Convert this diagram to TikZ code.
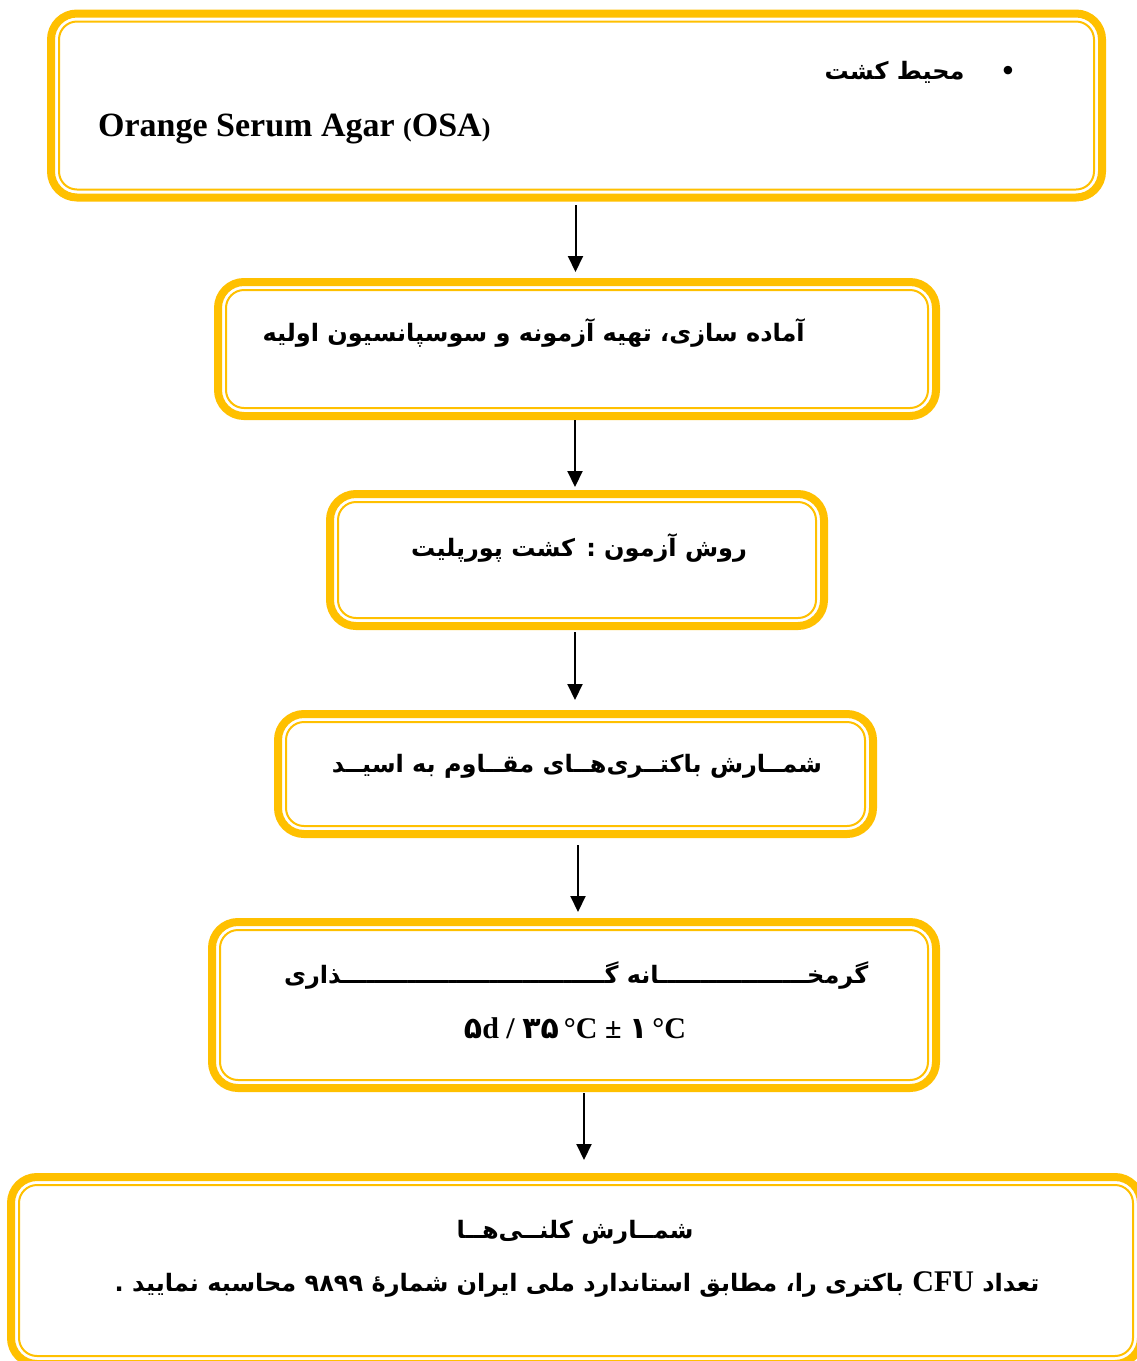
\documentclass[tikz,border=0pt]{standalone}
\usepackage{fontspec}
\setmainfont{Liberation Serif}
\newfontfamily\fa[Script=Arabic]{DejaVu Sans}
\TeXXeTstate=1
\usetikzlibrary{arrows.meta}
\definecolor{gold}{HTML}{FFC000}
\tikzset{
  outerbox/.style={draw=gold, line width=8pt, rounded corners=26pt, inner sep=0pt, outer sep=0pt},
  innerbox/.style={draw=gold, line width=2pt, rounded corners=18pt},
  arr/.style={line width=2pt, -{Triangle[length=16pt,width=15pt]}},
  fatxt/.style={font=\fa\bfseries\fontsize{24}{30}\selectfont, inner sep=0pt},
  entxt/.style={font=\bfseries\fontsize{34}{40}\selectfont, inner sep=0pt}
}
\newcommand\gbox[5]{%
  \node[outerbox, minimum width={(#4-#2)*1pt}, minimum height={(#5-#3)*1pt}] (#1) at ({(#2+#4)/2},{(#3+#5)/2}) {};
  \draw[innerbox] ([shift={(8,8)}]#1.north west) rectangle ([shift={(-8,-8)}]#1.south east);
}
\newcommand\en{\rmfamily\bfseries}
\def\tone{ـ}
\def\tfive{ـــــ}
\def\tten{\tfive\tfive}
\begin{document}
\begin{tikzpicture}[x=1pt,y=-1pt]
\useasboundingbox (0,0) rectangle (1137,1361);
\clip (0,0) rectangle (1137,1361);
\fill[white] (0,0) rectangle (1137,1361);
% boxes
\gbox{b1}{51}{13.5}{1102}{197.5}
\gbox{b2}{218}{282}{936}{416}
\gbox{b3}{330}{494}{824}{626}
\gbox{b4}{278}{714}{873}{834}
\gbox{b5}{212}{922}{936}{1088}
\gbox{b6}{11}{1177}{1141}{1364}
% texts
\node[fatxt, anchor=east] (t1a) at (1016,72) {\beginR •\hskip 36pt محیط کشت\endR};
\node[entxt, anchor=base west] (t1b) at (98,136) {Orange Serum Agar {\fontsize{26}{30}\selectfont(}OSA{\fontsize{26}{30}\selectfont)}};
\node[fatxt, anchor=east] (t2) at (805,333) {\beginR آماده سازی، تهیه آزمونه و سوسپانسیون اولیه\endR};
\node[fatxt] (t3) at (579,548) {\beginR روش آزمون : کشت پورپلیت\endR};
\node[fatxt] (t4) at (577,766) {\beginR شمــارش باکتــری‌هــای مقــاوم به اسیــد\endR};
\node[fatxt] (t5a) at (576,975) {\beginR گرمخ\tten\tfive\tone\tone\tone انه گ\tten\tten\tten\tone\tone ذاری\endR};
\node[entxt, font=\bfseries\fontsize{30}{36}\selectfont] (t5b) at (575,1028) {{\fa ۵}d / {\fa ۳۵}\,°C ± {\fa ۱}\,°C};
\node[fatxt] (t6a) at (575,1232) {\beginR شمــارش کلنــی‌هــا\endR};
\node[fatxt] (t6b) at (577,1285) {\beginR تعداد \beginL{\en\fontsize{30}{36}\selectfont CFU}\endL{} باکتری را، مطابق استاندارد ملی ایران شمارهٔ \beginL ۹۸۹۹\endL{} محاسبه نمایید .\endR};
% arrows
\coordinate (x1) at (575.5,0);
\coordinate (x2) at (575,0);
\coordinate (x3) at (575,0);
\coordinate (x4) at (578,0);
\coordinate (x5) at (584,0);
\draw[arr, shorten <=7.5pt, shorten >=10pt] (b1.south -| x1) -- (b2.north -| x1);
\draw[arr, shorten <=4pt, shorten >=7pt] (b2.south -| x2) -- (b3.north -| x2);
\draw[arr, shorten <=6pt, shorten >=14pt] (b3.south -| x3) -- (b4.north -| x3);
\draw[arr, shorten <=11pt, shorten >=10pt] (b4.south -| x4) -- (b5.north -| x4);
\draw[arr, shorten <=5pt, shorten >=17pt] (b5.south -| x5) -- (b6.north -| x5);
\end{tikzpicture}
\end{document}
